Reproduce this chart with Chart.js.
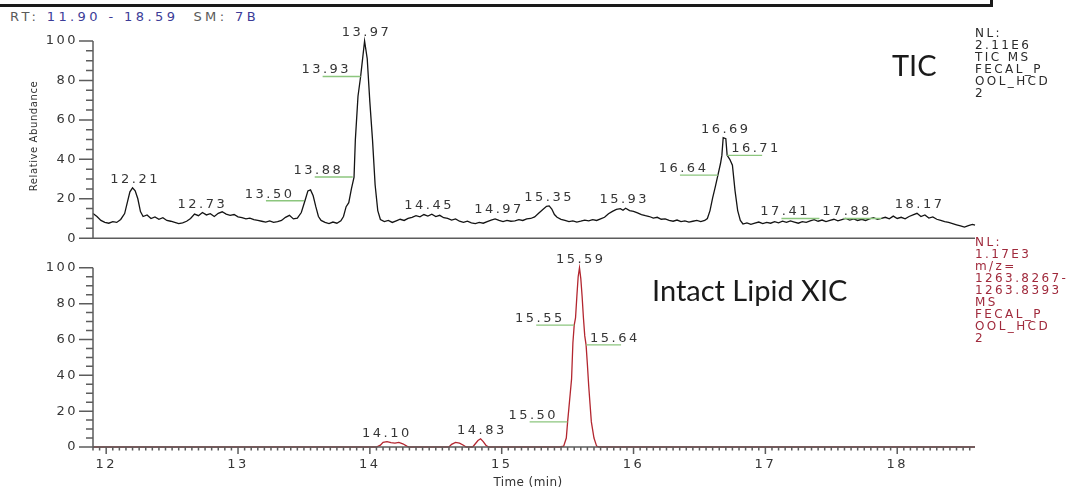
<!DOCTYPE html>
<html><head><meta charset="utf-8">
<script src="https://cdn.jsdelivr.net/npm/chart.js@4.4.1/dist/chart.umd.min.js"></script>
<style>
body{margin:0;background:#fff;width:1086px;height:491px;overflow:hidden;position:relative;font-family:"DejaVu Sans",sans-serif;}
canvas{position:absolute;left:0;}
#cA{top:0}
#cB{top:245px}
.t{position:absolute;white-space:pre;}
#frame{position:absolute;left:-3px;top:-3px;width:990px;height:4px;border:3px solid #1a1a1a;}
#hdr{left:10px;top:10px;font-size:13px;line-height:14px;letter-spacing:3.4px;color:#5a5a5a;}
#hdr b{font-weight:normal;color:#3c3c98;}
.nl{left:975px;font-size:12px;line-height:12px;letter-spacing:2.4px;}
#nlA{top:27px;color:#2a2a2a;}
#nlB{top:236px;color:#a02a3c;}
.big{font-family:Lato,"Open Sans",sans-serif;font-size:29px;line-height:30px;color:#1a1a1a;}
#ttlY{left:-36px;top:130px;width:140px;height:12px;line-height:12px;text-align:center;font-size:10px;letter-spacing:0.6px;color:#333;transform:rotate(-90deg);}
#ttlX{left:428px;top:475px;width:200px;text-align:center;font-size:12px;line-height:14px;letter-spacing:0.4px;color:#333;}
</style></head><body>
<div id="frame"></div>
<div class="t" id="hdr">RT: <b>11.90 - 18.59</b>  SM: <b>7B</b></div>
<canvas id="cA" width="1086" height="261"></canvas>
<canvas id="cB" width="1086" height="246"></canvas>
<div class="t nl" id="nlA">NL:
2.11E6
TIC MS
FECAL_P
OOL_HCD
2</div>
<div class="t nl" id="nlB">NL:
1.17E3
m/z=
1263.8267-
1263.8393
MS
FECAL_P
OOL_HCD
2</div>
<div class="t big" style="left:892px;top:50px;">TIC</div>
<div class="t big" style="left:652px;top:275px;">Intact Lipid XIC</div>
<div class="t" id="ttlY">Relative Abundance</div>
<div class="t" id="ttlX">Time (min)</div>
<script>
// ---- data ----
const xTicks = [12, 13, 14, 15, 16, 17, 18];
const yTicks = [0, 20, 40, 60, 80, 100];

const ticRt = [
11.90,11.93,11.96,11.99,12.02,12.05,12.08,12.11,12.14,12.16,
12.18,12.20,12.22,12.24,12.26,12.28,12.31,12.34,12.37,12.40,
12.43,12.46,12.49,12.52,12.55,12.58,12.61,12.64,12.67,12.70,
12.73,12.76,12.79,12.82,12.85,12.88,12.91,12.94,12.97,13.00,
13.03,13.06,13.09,13.12,13.15,13.18,13.21,13.24,13.27,13.30,
13.33,13.36,13.39,13.42,13.45,13.48,13.51,13.53,13.55,13.57,
13.59,13.61,13.63,13.66,13.69,13.72,13.75,13.78,13.80,13.82,
13.84,13.86,13.88,13.89,13.91,13.93,13.94,13.96,13.98,14.00,
14.02,14.04,14.06,14.08,14.11,14.14,14.17,14.20,14.23,14.26,
14.29,14.32,14.35,14.38,14.41,14.44,14.47,14.50,14.53,14.56,
14.59,14.62,14.65,14.68,14.71,14.74,14.77,14.80,14.83,14.86,
14.89,14.92,14.95,14.98,15.01,15.04,15.07,15.10,15.13,15.16,
15.19,15.22,15.25,15.28,15.31,15.34,15.36,15.38,15.40,15.42,
15.45,15.48,15.51,15.54,15.57,15.60,15.63,15.66,15.69,15.72,
15.75,15.78,15.81,15.84,15.87,15.90,15.92,15.94,15.97,16.00,
16.03,16.06,16.09,16.12,16.15,16.18,16.21,16.24,16.27,16.30,
16.33,16.36,16.39,16.42,16.45,16.48,16.51,16.54,16.56,16.58,
16.60,16.62,16.64,16.66,16.67,16.68,16.70,16.71,16.73,16.75,
16.77,16.79,16.81,16.83,16.86,16.89,16.92,16.95,16.98,17.01,
17.04,17.07,17.10,17.13,17.16,17.19,17.22,17.25,17.28,17.31,
17.34,17.37,17.40,17.43,17.46,17.49,17.52,17.55,17.58,17.61,
17.64,17.67,17.70,17.73,17.76,17.79,17.82,17.85,17.88,17.91,
17.94,17.97,18.00,18.03,18.06,18.09,18.12,18.15,18.18,18.21,
18.24,18.27,18.30,18.33,18.36,18.39,18.42,18.45,18.48,18.51,
18.54,18.57,18.59];
const ticAb = [
12.5,11.0,9.0,8.0,7.6,8.4,8.0,9.5,12.5,18.0,
23.5,25.5,24.0,20.0,13.5,11.0,11.8,10.0,10.8,9.6,
10.4,9.0,8.6,8.0,7.4,7.8,8.6,10.0,12.2,11.4,
13.0,11.8,12.4,11.0,12.6,13.4,12.2,11.6,12.0,10.8,
10.4,9.8,10.2,9.4,9.0,8.6,8.2,8.8,8.0,8.4,
9.0,10.6,11.6,9.8,10.2,13.0,19.5,24.0,24.5,21.5,
16.0,11.0,9.0,8.0,7.4,8.2,7.6,8.8,11.0,16.0,
18.0,25.0,31.0,50.0,72.0,82.0,88.0,100,91.0,69.0,
50.0,27.0,14.0,9.5,8.4,9.0,8.0,8.8,9.6,9.0,
10.0,10.6,11.4,10.8,12.0,11.2,12.2,11.0,11.6,10.4,
10.0,9.2,9.8,8.6,8.0,8.6,7.8,7.4,8.0,7.6,
8.4,9.2,9.8,9.0,8.4,9.0,8.6,8.8,9.4,9.0,
9.8,10.0,10.8,12.6,14.4,16.2,16.4,14.8,12.0,10.6,
9.6,9.0,8.4,8.8,8.2,8.6,9.2,8.8,9.4,9.0,
9.8,10.6,12.4,13.6,14.6,15.0,14.2,15.2,14.0,13.6,
12.8,12.0,11.4,11.0,10.2,10.6,9.6,9.8,9.0,8.6,
9.2,8.4,8.8,8.2,8.6,9.0,8.4,9.0,10.0,14.0,
20.5,26.0,32.0,38.0,42.0,51.0,50.5,42.0,40.0,37.0,
24.0,14.0,9.0,7.2,7.8,7.0,7.6,8.2,7.4,8.0,
7.6,8.4,7.8,8.6,8.0,8.8,8.2,7.6,8.4,8.0,
8.8,9.4,8.6,9.2,8.4,9.0,9.6,8.8,9.4,10.0,
9.2,9.8,9.0,9.6,9.0,9.8,10.4,9.6,10.0,10.6,
9.8,11.2,10.0,10.6,9.8,11.0,11.8,12.6,11.0,11.8,
10.2,10.8,9.6,9.0,8.4,8.0,7.4,6.8,6.2,5.6,
6.4,7.0,6.6];

const xicRt = [11.90,14.05,14.08,14.10,14.13,14.16,14.19,14.22,14.25,14.28,
14.30,14.60,14.62,14.65,14.68,14.71,14.73,14.78,14.80,14.82,
14.84,14.86,14.88,14.90,15.44,15.47,15.49,15.50,15.51,15.52,
15.53,15.54,15.55,15.56,15.57,15.58,15.59,15.60,15.61,15.62,
15.63,15.64,15.65,15.66,15.67,15.68,15.70,15.72,15.74,18.59];
const xicAb = [0,0,1.0,2.6,3.0,2.4,2.2,2.6,1.8,0.5,
0,0,1.5,2.6,2.2,1.0,0,0,1.8,3.6,
4.6,3.0,1.0,0,0,0.5,5,14,22,30,
38,58,68,72,84,95,100,94,84,72,
62,57,46,34,24,14,5,0.5,0,0];

const ticPeakText = ['12.21','12.73','13.50','13.88','13.93','13.97','14.45','14.97','15.35','15.93','16.64','16.69','16.71','17.41','17.88','18.17'];
const ticPeakRt   = [12.21, 12.72, 13.50, 13.87, 13.93, 13.965, 14.44, 14.97, 15.35, 15.92, 16.64, 16.69, 16.71, 17.41, 17.88, 18.16];
const ticPeakAb   = [25.5, 13.0, 19.0, 31.0, 82.0, 100, 12.2, 10.0, 16.4, 15.2, 32.0, 51.0, 42.0, 10.0, 10.0, 12.6];
const ticPeakKind = ['apex','apex','left','left','left','apex','apex','apex','apex','apex','left','apex','right','left','left','apex'];

const xicPeakText = ['14.10','14.83','15.50','15.55','15.59','15.64'];
const xicPeakRt   = [14.12, 14.84, 15.50, 15.55, 15.59, 15.64];
const xicPeakAb   = [3.0, 4.6, 14.0, 68.0, 100, 57.0];
const xicPeakKind = ['apex','apex','left','left','apex','right'];

// ---- styling ----
const AXIS = '#5c5c5c', TXT = '#363636', GREEN = '#8cc67e';
const FONT = {family: 'DejaVu Sans', size: 13};

const chromo = {
  id: 'chromo',
  beforeDraw(chart) { chart.ctx.letterSpacing = '2.5px'; },
  afterDatasetsDraw(chart, args, o) {
    const {ctx, chartArea: a, scales: {x, y}} = chart;
    ctx.save();
    ctx.strokeStyle = AXIS; ctx.lineWidth = 1.5;
    const y0 = y.getPixelForValue(0), y100 = y.getPixelForValue(100);
    ctx.beginPath();
    ctx.moveTo(a.left, y100); ctx.lineTo(a.left, y0);
    ctx.moveTo(a.left, y0); ctx.lineTo(a.right, y0);
    for (let v = 0; v <= 100; v += 5) {
      const len = v % 20 === 0 ? 14 : 7, py = y.getPixelForValue(v);
      ctx.moveTo(a.left - len, py); ctx.lineTo(a.left, py);
    }
    if (o.xTicks) {
      for (let i = Math.ceil(x.min * 20 - 1e-6); i <= Math.floor(x.max * 20 + 1e-6); i++) {
        const len = i % 20 === 0 ? 7 : 3.5, px = x.getPixelForValue(i / 20);
        ctx.moveTo(px, y0); ctx.lineTo(px, y0 + len);
      }
    }
    ctx.stroke();
    ctx.font = '13px "DejaVu Sans"'; ctx.fillStyle = TXT; ctx.letterSpacing = '2.5px';
    ctx.textBaseline = 'alphabetic';
    o.text.forEach((s, i) => {
      const px = x.getPixelForValue(o.rt[i]), py = y.getPixelForValue(o.ab[i]);
      const k = o.kind[i];
      if (k !== 'apex') {
        ctx.strokeStyle = GREEN; ctx.lineWidth = 1.4;
        ctx.beginPath();
        if (k === 'left') { ctx.moveTo(px - 38, py); ctx.lineTo(px, py); }
        else { ctx.moveTo(px, py); ctx.lineTo(px + 35, py); }
        ctx.stroke();
      }
      if (k === 'apex') { ctx.textAlign = 'center'; ctx.fillText(s, px + 1.25, py - 5); }
      else if (k === 'left') { ctx.textAlign = 'right'; ctx.fillText(s, px - 9.5, py - 3); }
      else { ctx.textAlign = 'left'; ctx.fillText(s, px + 4, py - 3); }
    });
    ctx.restore();
  }
};

function makeChart(id, rt, ab, color, peaks, showX, padTop, padBottom) {
  return new Chart(document.getElementById(id), {
    type: 'line',
    data: {datasets: [{
      data: rt.map((t, i) => ({x: t, y: ab[i]})),
      borderColor: color, borderWidth: 1.3, pointRadius: 0, tension: 0, fill: false, clip: false
    }]},
    options: {
      responsive: false, animation: false, devicePixelRatio: 1,
      layout: {padding: {left: 0, right: 111, top: padTop, bottom: padBottom}},
      plugins: {legend: {display: false}, tooltip: {enabled: false},
        chromo: {xTicks: showX, text: peaks[0], rt: peaks[1], ab: peaks[2], kind: peaks[3]}},
      scales: {
        x: {type: 'linear', min: 11.90, max: 18.59, display: showX,
          afterBuildTicks: s => { s.ticks = xTicks.map(v => ({value: v})); },
          afterFit: s => { s.height = showX ? 44 : 0; },
          grid: {display: false, drawTicks: false}, border: {display: false},
          ticks: {padding: 10, color: TXT, font: FONT, maxRotation: 0, autoSkip: false}},
        y: {type: 'linear', min: 0, max: 100,
          afterBuildTicks: s => { s.ticks = yTicks.map(v => ({value: v})); },
          afterFit: s => { s.width = 93; },
          grid: {display: false, drawTicks: false}, border: {display: false},
          ticks: {padding: 15, color: TXT, font: FONT, autoSkip: false}}
      }
    },
    plugins: [chromo]
  });
}

makeChart('cA', ticRt, ticAb, '#141414', [ticPeakText, ticPeakRt, ticPeakAb, ticPeakKind], false, 41, 8);
makeChart('cB', xicRt, xicAb, '#b3262f', [xicPeakText, xicPeakRt, xicPeakAb, xicPeakKind], true, 8, 0);
</script>
</body></html>
